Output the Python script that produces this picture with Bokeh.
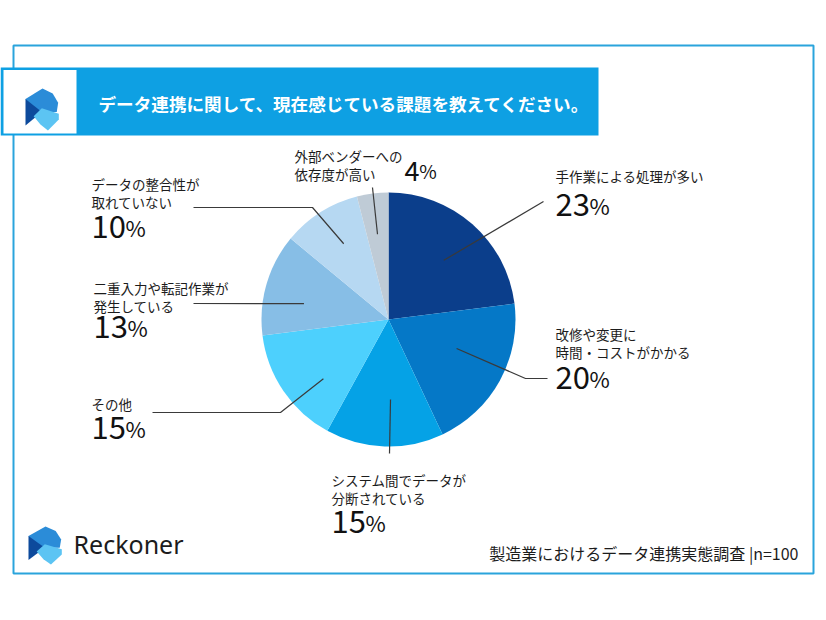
import math

from bokeh.core.properties import value
from bokeh.embed import file_html
from bokeh.models import Range1d
from bokeh.plotting import figure
from bokeh.resources import INLINE

# ---- data -------------------------------------------------------------
title = "データ連携に関して、現在感じている課題を教えてください。"
source_note = "製造業におけるデータ連携実態調査 |n=100"
brand = "Reckoner"

categories = [
    ["手作業による処理が多い"],
    ["改修や変更に", "時間・コストがかかる"],
    ["システム間でデータが", "分断されている"],
    ["その他"],
    ["二重入力や転記作業が", "発生している"],
    ["データの整合性が", "取れていない"],
    ["外部ベンダーへの", "依存度が高い"],
]
shares = [23, 20, 15, 15, 13, 10, 4]
colors = ["#0b3e8b", "#0578c7", "#05a2e6", "#4dd0fd", "#87bee6", "#b6d8f2", "#bfcbd6"]

# ---- layout (pixel space, y measured downward) ------------------------
W, H = 826, 620
FONT = "Noto Sans CJK JP"
INK = "#1c1c1c"
CX, CY, R = 388, 319, 127
NUM_SHIFT = -11   # baseline correction for the large figures


def Y(v):
    return H - v


p = figure(width=W, height=H, output_backend="svg", toolbar_location=None,
           x_range=Range1d(0, W), y_range=Range1d(0, H),
           x_axis_location=None, y_axis_location=None,
           min_border=0, outline_line_color=None, background_fill_color="white",
           border_fill_color="white")
p.grid.visible = False

# outer frame
p.quad(left=[13], right=[813], top=[Y(45)], bottom=[Y(573)],
       fill_color=None, line_color="#2aa4dc", line_width=2)

# title band with logo tile
p.quad(left=[0], right=[598], top=[Y(67)], bottom=[Y(135)],
       fill_color="#0ea0e3", line_color=None)
p.quad(left=[3], right=[76], top=[Y(69.5)], bottom=[Y(133)],
       fill_color="white", line_color=None)
p.text(x=[98], y=[Y(103)], text=[title], text_font=value(FONT),
       text_font_size=value("17.6px"), text_font_style="bold",
       text_color="white", text_baseline="middle", text_align="left")


def logo(x0, y0, w, h):
    """Return the brand mark as three polygons in pixel space."""
    parts = [
        ([(0, .25), (.5, 0), (.8, .12), (.96, .34), (.92, .56), (.15, .56)], "#2b8cd8"),
        ([(0, .25), (0, .88), (.48, .56)], "#0d4a9c"),
        ([(.24, .66), (.48, .47), (.98, .6), (.98, .74), (.66, 1.0), (.44, .86)], "#5cc4f3"),
    ]
    xs, ys, cs = [], [], []
    for pts, c in parts:
        xs.append([x0 + u * w for u, _ in pts])
        ys.append([Y(y0 + v * h) for _, v in pts])
        cs.append(c)
    return xs, ys, cs


for box in [(25, 88, 34, 42), (28, 526, 34, 38)]:
    xs, ys, cs = logo(*box)
    p.patches(xs, ys, fill_color=cs, line_color=None)

p.text(x=[73], y=[Y(543)], text=[brand], text_font=value("Noto Sans"),
       text_font_size=value("25px"), text_color=INK,
       text_baseline="middle", text_align="left")
p.text(x=[798], y=[Y(552)], text=[source_note], text_font=value(FONT),
       text_font_size=value("16px"), text_color=INK,
       text_baseline="middle", text_align="right")

# ---- pie: starts at 12 o'clock and runs clockwise ----------------------
total = sum(shares)
starts, ends = [], []
acc = 0
for s in shares:
    starts.append(math.pi / 2 - 2 * math.pi * acc / total)
    acc += s
    ends.append(math.pi / 2 - 2 * math.pi * acc / total)

p.wedge(x=[CX] * len(shares), y=[Y(CY)] * len(shares), radius=R,
        start_angle=starts, end_angle=ends, direction="clock",
        fill_color=colors, line_color=None)

# ---- leader lines and labels ------------------------------------------
lead_frac = [0.52, 0.42, 0.44, 0.35, 0.38, 0.55, 0.49]   # position across the slice
lead_r = [81, 74, 80, 88, 86, 88, 86]
lead_path = [
    [(543, 201)],
    [(525, 378), (547, 378)],
    [(389, 453)],
    [(280, 412), (152, 412)],
    [(193, 303)],
    [(312, 207), (193, 207)],
    [(372, 187)],
]
label_xy = [(555, 175), (555, 333), (331, 479), (91, 403), (93, 287), (91, 183), (294, 155)]
pct_xy = [(555, 215), (555, 388), (331, 532), (91, 438), (93, 337), (91, 237), (404, 181)]
pct_size = [31, 31, 31, 31, 31, 31, 27]

acc = 0
lx, ly = [], []
for i, s in enumerate(shares):
    a = 2 * math.pi * (acc + lead_frac[i] * s) / total
    acc += s
    sx = CX + lead_r[i] * math.sin(a)
    sy = CY - lead_r[i] * math.cos(a)
    pts = [(sx, sy)] + lead_path[i]
    lx.append([q[0] for q in pts])
    ly.append([Y(q[1]) for q in pts])
p.multi_line(lx, ly, line_color="#3a3a3a", line_width=1.2)

tx, ty, tt = [], [], []
for i, lines in enumerate(categories):
    x0, y0 = label_xy[i]
    for k, line in enumerate(lines):
        tx.append(x0)
        ty.append(Y(y0 + 18 * k))
        tt.append(line)
p.text(x=tx, y=ty, text=tt, text_font=value(FONT), text_font_size=value("13.5px"),
       text_color=INK, text_baseline="middle", text_align="left")

for i, s in enumerate(shares):
    x0, y0 = pct_xy[i]
    size = pct_size[i]
    digits = str(s)
    p.text(x=[x0], y=[Y(y0 + NUM_SHIFT)], text=[digits], text_font=value(FONT),
           text_font_size=value(f"{size}px"), text_color="#111111",
           text_baseline="alphabetic", text_align="left")
    p.text(x=[x0 + 0.55 * size * len(digits)], y=[Y(y0 + NUM_SHIFT)], text=["%"],
           text_font=value(FONT), text_font_size=value(f"{round(size * 0.72)}px"),
           text_color="#111111", text_baseline="alphabetic", text_align="left")

open("out.html", "w").write(file_html(p, INLINE))
